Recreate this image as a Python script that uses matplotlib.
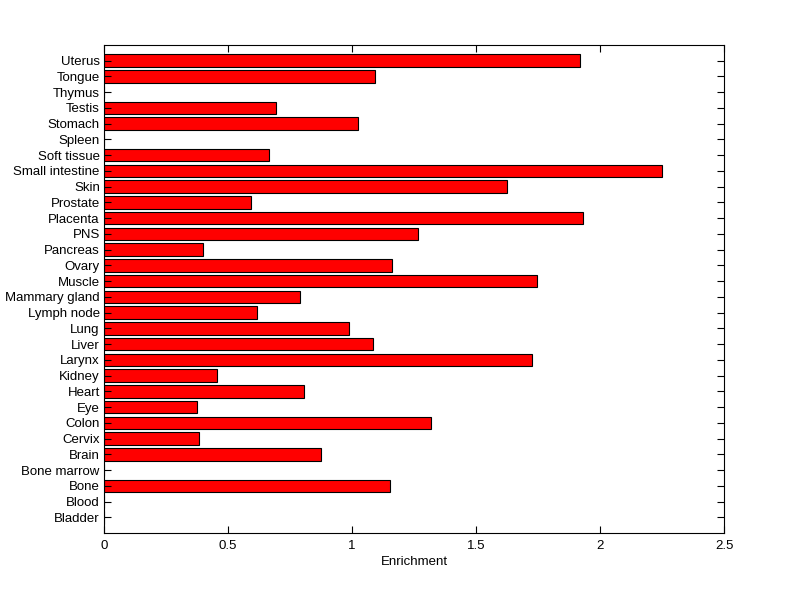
import numpy as np
import matplotlib
matplotlib.use('Agg')
import matplotlib.pyplot as plt

# tissue names, bottom to top
tissues = ['Bladder', 'Blood', 'Bone', 'Bone marrow', 'Brain', 'Cervix', 'Colon',
           'Eye', 'Heart', 'Kidney', 'Larynx', 'Liver', 'Lung', 'Lymph node',
           'Mammary gland', 'Muscle', 'Ovary', 'Pancreas', 'PNS', 'Placenta',
           'Prostate', 'Skin', 'Small intestine', 'Soft tissue', 'Spleen',
           'Stomach', 'Testis', 'Thymus', 'Tongue', 'Uterus']
enrichment = [0, 0, 1.155, 0, 0.876, 0.383, 1.320,
              0.376, 0.806, 0.457, 1.726, 1.086, 0.988, 0.618,
              0.792, 1.746, 1.161, 0.399, 1.268, 1.931,
              0.593, 1.627, 2.25, 0.665, 0,
              1.024, 0.694, 0, 1.094, 1.919]
xticks = [0, 0.5, 1, 1.5, 2, 2.5]
xticklabels = ['0', '0.5', '1', '1.5', '2', '2.5']

plt.rcParams['font.family'] = ['Liberation Sans', 'DejaVu Sans']

fig = plt.figure(figsize=(8, 5.99), dpi=100)
ax = fig.add_axes([0.13, 0.11, 0.775, 0.815])

ypos = np.arange(1, len(tissues) + 1)
ax.barh(ypos, enrichment, height=0.8, color='#ff0000', edgecolor='black', linewidth=0.8)

ax.set_xlim(0, 2.5)
ax.set_ylim(0, len(tissues) + 1)
ax.set_xticks(xticks)
ax.set_xticklabels(xticklabels)
ax.set_yticks(ypos)
ax.set_yticklabels(tissues)
ax.set_xlabel('Enrichment', fontsize=9.5, labelpad=3)

ax.tick_params(axis='both', direction='in', length=5, width=0.8, labelsize=9.5,
               top=True, right=True, pad=3)
ax.tick_params(axis='x', pad=5)
for sp in ax.spines.values():
    sp.set_linewidth(0.8)

fig.savefig('out.png', dpi=100, facecolor='white')
